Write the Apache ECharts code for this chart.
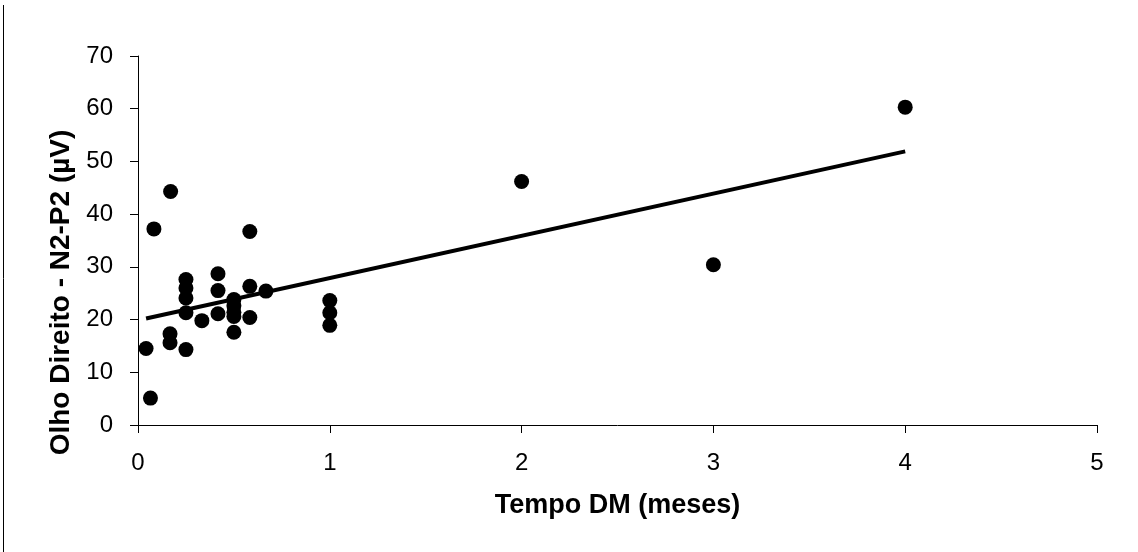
<!DOCTYPE html>
<html>
<head>
<meta charset="utf-8">
<script src="https://cdn.jsdelivr.net/npm/echarts@6/dist/echarts.min.js"></script>
<style>
    html, body { margin: 0; padding: 0; background: #fff; }
    #main { width: 1138px; height: 552px; }
</style>
</head>
<body>
<div id="main"></div>
<script>
// tempo DM (meses) / amplitude N2-P2 (uV)
var tempo = [0.17, 0.083, 0.583, 0.417, 0.25, 0.25, 0.25, 0.25, 0.417, 0.583, 0.667,
    0.5, 0.5, 0.5, 0.5, 0.5, 0.417, 0.333, 0.583, 0.167, 0.167, 0.25, 0.042, 0.065,
    1, 1, 1, 2, 3, 4];
var amplitude = [44.3, 37.2, 36.7, 28.7, 27.6, 26.0, 24.1, 21.3, 25.5, 26.3, 25.4,
    23.8, 22.6, 21.4, 20.6, 17.6, 21.1, 19.8, 20.4, 17.3, 15.6, 14.3, 14.5, 5.1,
    23.6, 21.3, 18.9, 46.2, 30.4, 60.3];
// linha de tendencia (extremos)
var trendX = [0.042, 4];
var trendY = [20.2, 51.9];

var xTicks = [0, 1, 2, 3, 4, 5];
var yTicks = [0, 10, 20, 30, 40, 50, 60, 70];

var pontos = tempo.map(function (t, i) { return [t, amplitude[i]]; });
var tendencia = trendX.map(function (t, i) { return [t, trendY[i]]; });

var font = 'Liberation Sans, Arial, sans-serif';
var myChart = echarts.init(document.getElementById('main'));
myChart.setOption({
    animation: false,
    grid: { left: 138, right: 41, top: 56, bottom: 127 },
    graphic: [{
        type: 'line',
        shape: { x1: 3.5, y1: 5, x2: 3.5, y2: 552 },
        style: { stroke: '#000', lineWidth: 1 }
    }],
    xAxis: {
        type: 'value',
        min: xTicks[0],
        max: xTicks[xTicks.length - 1],
        interval: 1,
        name: 'Tempo DM (meses)',
        nameLocation: 'middle',
        nameGap: 67,
        nameTextStyle: { fontFamily: font, fontSize: 27, fontWeight: 'bold', color: '#000' },
        axisLine: { lineStyle: { color: '#000', width: 1 } },
        axisTick: { show: true, length: 8, lineStyle: { color: '#000' } },
        axisLabel: { fontFamily: font, fontSize: 24, color: '#000', margin: 26 },
        splitLine: { show: false }
    },
    yAxis: {
        type: 'value',
        min: yTicks[0],
        max: yTicks[yTicks.length - 1],
        interval: 10,
        name: 'Olho Direito - N2-P2 (\u00b5V)',
        nameLocation: 'middle',
        nameGap: 62,
        nameTextStyle: {
            fontFamily: font, fontSize: 28, fontWeight: 'bold', color: '#000',
            padding: [0, 104, 0, 0]
        },
        axisLine: { show: true, lineStyle: { color: '#000', width: 1 } },
        axisTick: { show: true, length: 8, lineStyle: { color: '#000' } },
        axisLabel: { fontFamily: font, fontSize: 24, color: '#000', margin: 25 },
        splitLine: { show: false }
    },
    series: [
        {
            type: 'line',
            data: tendencia,
            symbol: 'none',
            lineStyle: { color: '#000', width: 4 },
            z: 1
        },
        {
            type: 'scatter',
            data: pontos,
            symbol: 'circle',
            symbolSize: 15,
            itemStyle: { color: '#000', opacity: 1 },
            z: 2
        }
    ]
});
</script>
</body>
</html>
